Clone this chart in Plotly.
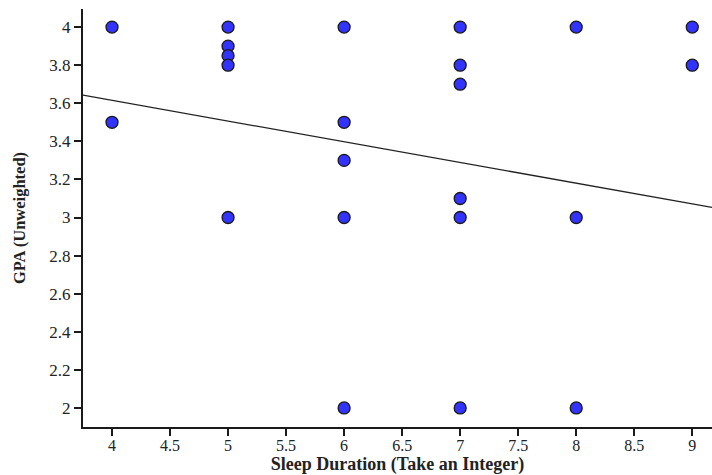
import plotly.graph_objects as go

# Data
sleep_hours = [4, 4, 5, 5, 5, 5, 5, 6, 6, 6, 6, 6, 7, 7, 7, 7, 7, 7, 8, 8, 8, 9, 9]
gpa = [4.0, 3.5, 4.0, 3.9, 3.85, 3.8, 3.0, 4.0, 3.5, 3.3, 3.0, 2.0,
       4.0, 3.8, 3.7, 3.1, 3.0, 2.0, 4.0, 3.0, 2.0, 4.0, 3.8]

# Regression line as drawn (intercept, slope)
fit_intercept = 4.05
fit_slope = -0.1087
x_range = [3.75, 9.17]
y_range = [1.9, 4.095]

font_family = "Liberation Serif, Times New Roman, serif"

fig = go.Figure()
fig.add_trace(go.Scatter(
    x=x_range,
    y=[fit_intercept + fit_slope * v for v in x_range],
    mode="lines",
    line=dict(color="#222222", width=1.3),
    hoverinfo="skip",
    showlegend=False,
))
fig.add_trace(go.Scatter(
    x=sleep_hours, y=gpa, mode="markers",
    marker=dict(size=12, color="#3333ff", line=dict(color="#1a1a1a", width=1.3)),
    showlegend=False,
))

axis_common = dict(
    showgrid=False, zeroline=False, showline=True, linecolor="#1a1a1a", linewidth=2,
    ticks="outside", ticklen=7, tickwidth=2, tickcolor="#1a1a1a",
)
fig.update_xaxes(range=x_range, dtick=0.5, tick0=4, ticklabelstandoff=-4,
                 tickfont=dict(family=font_family, size=16, color="#222222"),
                 title=dict(text="<b>Sleep Duration (Take an Integer)</b>",
                            font=dict(family=font_family, size=18, color="#222222"), standoff=6),
                 **axis_common)
fig.update_yaxes(range=y_range, dtick=0.2, tick0=2,
                 tickfont=dict(family=font_family, size=17, color="#222222"),
                 title=dict(text="<b>GPA (Unweighted)</b>",
                            font=dict(family=font_family, size=16.5, color="#222222"), standoff=20),
                 **axis_common)
fig.update_layout(
    width=712, height=475,
    margin=dict(l=83, r=0, t=9, b=48),
    plot_bgcolor="white", paper_bgcolor="white",
)
fig.write_html("out.html", config={"displayModeBar": False},
               post_script="document.body.style.margin='0';document.body.style.overflow='hidden';")
